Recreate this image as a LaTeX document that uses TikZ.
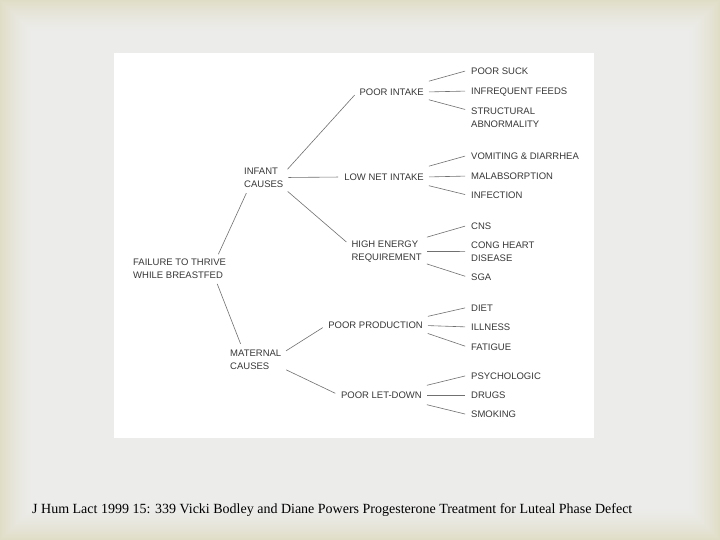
\documentclass[tikz,border=0pt]{standalone}
\usepackage{fontspec}
\newfontfamily\labelfont{Liberation Sans}
\newfontfamily\notefont{Liberation Serif}
\definecolor{slidebeige}{HTML}{E0DDC6}
\definecolor{slidegray}{HTML}{ECECEB}
\definecolor{inkgray}{HTML}{383838}
\definecolor{linegray}{HTML}{707070}

\begin{document}
\begin{tikzpicture}[
        x=1pt, y=-1pt,
        cause/.style={
            align=left,
            inner sep=2pt,
            text=inkgray,
            font=\labelfont\fontsize{9.5}{13}\selectfont
        },
        branch/.style={
            cause,
            anchor=east
        },
        leaf/.style={
            cause,
            anchor=north west
        },
        link/.style={
            draw=linegray,
            line width=0.6pt,
            shorten <=3pt,
            shorten >=4pt
        },
        photo/.style={
            fill=white,
            draw=none
        }
    ]
        \useasboundingbox (0,0) rectangle (720,540);

        % Slide background
        \fill[slidebeige] (0,0) rectangle (720,540);
        \foreach \i in {1,...,34} {
            \pgfmathtruncatemacro{\mix}{100*(1-\i/34)^1.5}
            \fill[slidebeige!\mix!slidegray] (\i,\i) rectangle (720-\i,540-\i);
        }
        \node (sheet) [photo, minimum width=480pt, minimum height=385pt, inner sep=0pt] at (354,245.5) {};

        % Root and causes
        \node (ftt) [cause, anchor=west] at (131,269) {FAILURE TO THRIVE\\WHILE BREASTFED};
        \node (infant) [cause, anchor=west] at (242,177.5) {INFANT\\CAUSES};
        \node (maternal) [cause, anchor=west] at (228,359.5) {MATERNAL\\CAUSES};

        % Infant branches
        \node (intake) [branch] at (426,92) {POOR INTAKE};
        \node (netintake) [branch] at (426,177) {LOW NET INTAKE};
        \node (energy) [branch] at (424,251.5) {HIGH ENERGY\\REQUIREMENT};

        % Maternal branches
        \node (production) [branch] at (425,325.5) {POOR PRODUCTION};
        \node (letdown) [branch] at (424,395) {POOR LET-DOWN};

        % Leaves
        \node (suck) [leaf] at (469,65.5) {POOR SUCK};
        \node (feeds) [leaf] at (469,85.5) {INFREQUENT FEEDS};
        \node (struct) [leaf] at (469,105.5) {STRUCTURAL\\ABNORMALITY};
        \node (vomit) [leaf] at (469,150.5) {VOMITING \& DIARRHEA};
        \node (malab) [leaf] at (469,170.5) {MALABSORPTION};
        \node (infect) [leaf] at (469,189.5) {INFECTION};
        \node (cns) [leaf] at (469,220.5) {CNS};
        \node (heart) [leaf] at (469,239.5) {CONG HEART\\DISEASE};
        \node (sga) [leaf] at (469,271.5) {SGA};
        \node (diet) [leaf] at (469,302.5) {DIET};
        \node (illness) [leaf] at (469,321.5) {ILLNESS};
        \node (fatigue) [leaf] at (469,341.5) {FATIGUE};
        \node (psych) [leaf] at (469,370.5) {PSYCHOLOGIC};
        \node (drugs) [leaf] at (469,389.5) {DRUGS};
        \node (smoke) [leaf] at (469,408.5) {SMOKING};

        % Caption
        \node (source) [anchor=base west, inner sep=0pt, font=\notefont\fontsize{14}{16}\selectfont] at (32,513) {J Hum Lact 1999 15: 339 Vicki Bodley and Diane Powers Progesterone Treatment for Luteal Phase Defect};

        % Connections
        \draw [link] ([xshift=-11pt]ftt.north east) -- ([xshift=6pt]infant.south west);
        \draw [link] ([xshift=-12pt]ftt.south east) -- ([xshift=14pt]maternal.north west);
        \draw [link] ([yshift=-6pt]infant.north east) -- (intake.west);
        \draw [link] (infant.east) -- (netintake.west);
        \draw [link] (infant.south east) -- ([yshift=-6pt]energy.north west);
        \draw [link] ([yshift=-5pt]maternal.north east) -- (production.west);
        \draw [link] ([yshift=3pt]maternal.south east) -- (letdown.west);

        \draw [link] ([yshift=10pt]intake.east) -- ([yshift=-4.5pt]suck.north west);
        \draw [link] (intake.east) -- ([yshift=-5.5pt]feeds.north west);
        \draw [link] ([yshift=-7pt]intake.east) -- ([yshift=-5pt]struct.north west);
        \draw [link] ([yshift=10pt]netintake.east) -- ([yshift=-4.5pt]vomit.north west);
        \draw [link] (netintake.east) -- ([yshift=-5.5pt]malab.north west);
        \draw [link] ([yshift=-8pt]netintake.east) -- ([yshift=-6pt]infect.north west);
        \draw [link] ([yshift=13.5pt]energy.east) -- ([yshift=-4.5pt]cns.north west);
        \draw [link] (energy.east) -- (heart.west);
        \draw [link] ([yshift=-11.5pt]energy.east) -- ([yshift=-6pt]sga.north west);
        \draw [link] ([yshift=8.5pt]production.east) -- ([yshift=-4.5pt]diet.north west);
        \draw [link] (production.east) -- ([yshift=-5.5pt]illness.north west);
        \draw [link] ([yshift=-7pt]production.east) -- ([yshift=-6pt]fatigue.north west);
        \draw [link] ([yshift=9pt]letdown.east) -- ([yshift=-4.5pt]psych.north west);
        \draw [link] (letdown.east) -- ([yshift=-5.5pt]drugs.north west);
        \draw [link] ([yshift=-9pt]letdown.east) -- ([yshift=-6.5pt]smoke.north west);
    \end{tikzpicture}
\end{document}
